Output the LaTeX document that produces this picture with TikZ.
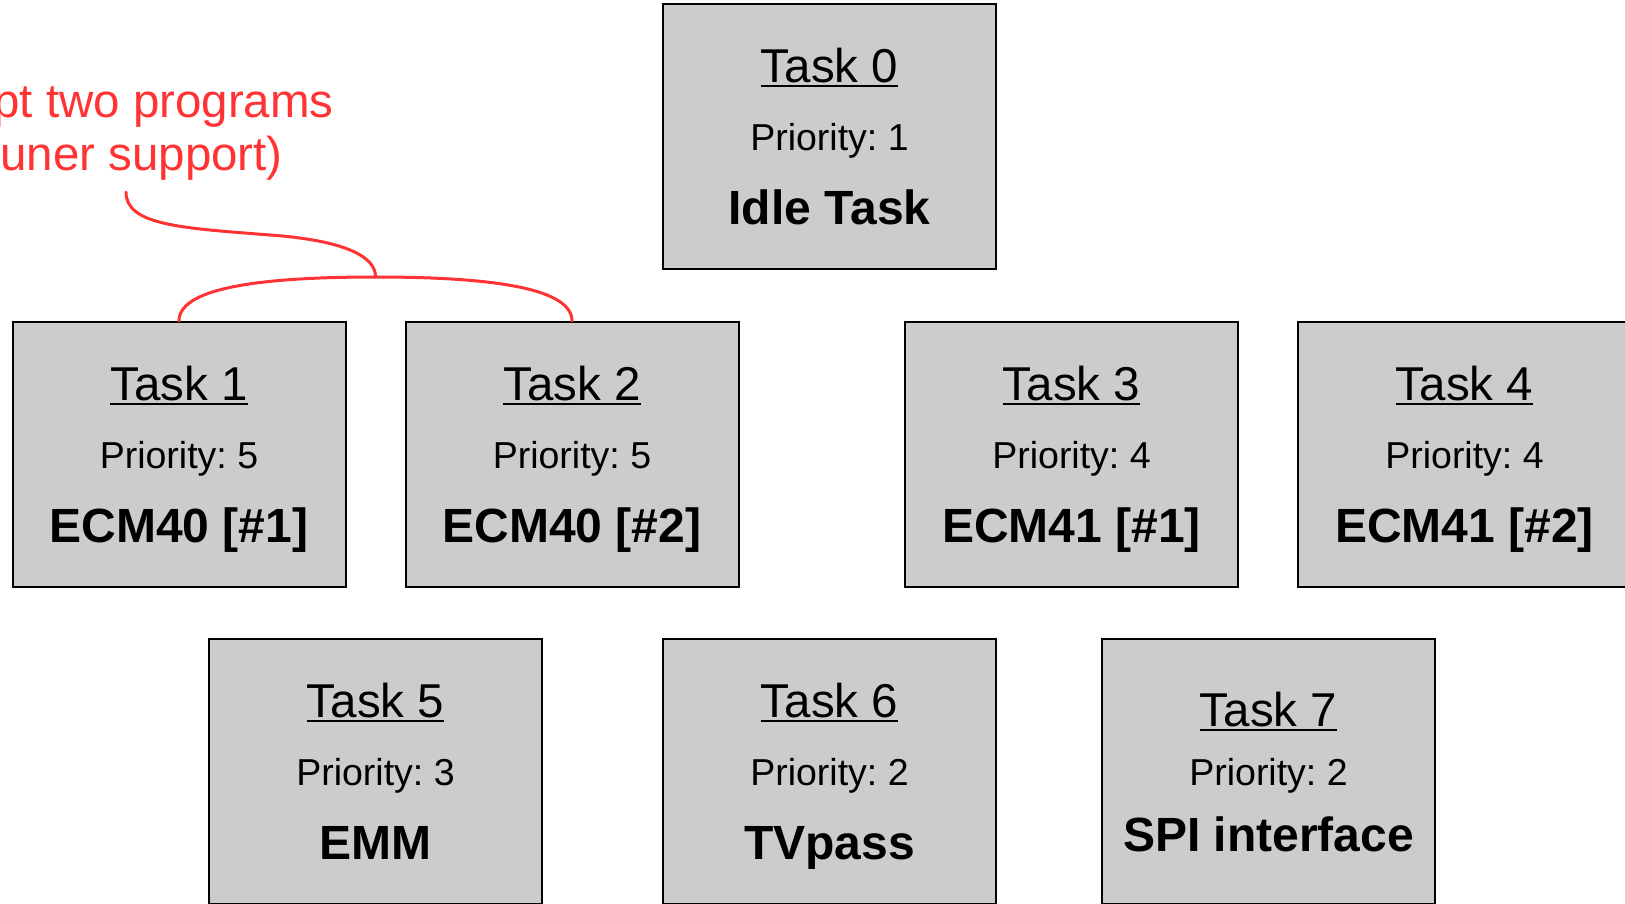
\documentclass[tikz,border=0pt]{standalone}
\usepackage{fontspec}
\setmainfont{Liberation Sans}
\definecolor{boxgray}{HTML}{CCCCCC}
\definecolor{notered}{HTML}{FF3333}
\newcommand{\mytask}[8]{%
  \node[taskbox] (#1) at (#2,#3+132.5) {};
  \node[tasktitle] (#1-t) at (#2,#3+#7) {#4};
  \node[taskprio] (#1-p) at (#2,#3+146) {#5};
  \node[taskname] (#1-n) at (#2,#3+#8) {#6};
  \draw[uline] ([yshift=-4.3pt]#1-t.base west) -- ([yshift=-4.3pt]#1-t.base east);
}
\begin{document}
\frenchspacing
\begin{tikzpicture}[x=1pt,y=-1pt,
  taskbox/.style={draw=black, line width=2pt, fill=boxgray, minimum width=333pt, minimum height=265pt, inner sep=0pt},
  tasktitle/.style={anchor=base, inner sep=0pt, font=\fontsize{47.5}{56}\selectfont},
  taskprio/.style={anchor=base, inner sep=0pt, font=\fontsize{37.5}{45}\selectfont},
  taskname/.style={anchor=base, inner sep=0pt, font=\fontsize{48}{57}\selectfont\bfseries},
  uline/.style={draw=black, line width=2pt},
  notetext/.style={anchor=base east, inner sep=0pt, text=notered, font=\fontsize{47.5}{53}\selectfont},
  noteline/.style={draw=notered, line width=3pt, line cap=round}]
\useasboundingbox (0,0) rectangle (1625,903);

% top row
\mytask{t0}{829.5}{4}{Task 0}{Priority: 1}{Idle Task}{78}{220}
% middle row
\mytask{t1}{179}{322}{Task 1}{Priority: 5}{ECM40 [\#1]}{78}{220}
\mytask{t2}{572}{322}{Task 2}{Priority: 5}{ECM40 [\#2]}{78}{220}
\mytask{t3}{1071.5}{322}{Task 3}{Priority: 4}{ECM41 [\#1]}{78}{220}
\mytask{t4}{1464.5}{322}{Task 4}{Priority: 4}{ECM41 [\#2]}{78}{220}
% bottom row
\mytask{t5}{375.5}{639}{Task 5}{Priority: 3}{EMM}{78}{220}
\mytask{t6}{829.5}{639}{Task 6}{Priority: 2}{TVpass}{78}{220}
\mytask{t7}{1268.5}{639}{Task 7}{Priority: 2}{SPI interface}{87}{212}

% annotation
\node[notetext] (note1) at (334,117) {Adopt two programs};
\node[notetext] (note2) at (283,170) {(tuner support)};
\coordinate (join) at (375.5,277);
\coordinate (tip) at (126,192);
\draw[noteline] (t1.north) .. controls (179,290) and (250,277) .. (join)
  .. controls (501,277) and (572,290) .. (t2.north);
\draw[noteline] (join) .. controls (376,255) and (340,240) .. (270,235)
  .. controls (180,228) and (126,225) .. (tip);
\end{tikzpicture}
\end{document}
